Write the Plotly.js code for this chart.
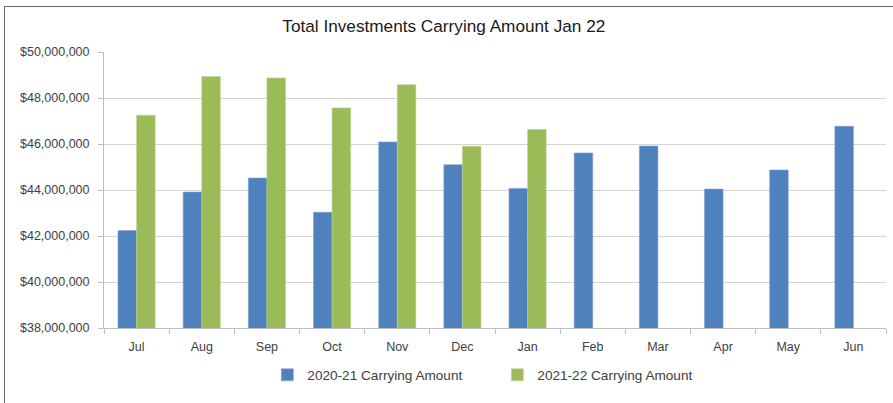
<!DOCTYPE html>
<html>
<head>
<meta charset="utf-8">
<script src="https://cdn.plot.ly/plotly-3.0.1.min.js"></script>
<style>
  html, body { margin: 0; padding: 0; background: #ffffff; }
  #wrap { position: relative; width: 893px; height: 403px; }
  #chart { width: 893px; height: 403px; }
  #frame {
    position: absolute; left: 4px; top: 6px; right: -2px; bottom: -2px;
    border-top: 1.5px solid #6b6b6b; border-left: 1.5px solid #6b6b6b;
    pointer-events: none;
  }
</style>
</head>
<body>
<div id="wrap">
  <div id="chart"></div>
  <div id="frame"></div>
</div>
<script>
// Monthly carrying amounts, fiscal year July–June
const months = ['Jul', 'Aug', 'Sep', 'Oct', 'Nov', 'Dec', 'Jan', 'Feb', 'Mar', 'Apr', 'May', 'Jun'];
const fy2021 = [42240000, 43910000, 44520000, 43030000, 46090000, 45100000, 44070000, 45610000, 45910000, 44040000, 44870000, 46770000];
const fy2122 = [47250000, 48930000, 48870000, 47570000, 48580000, 45900000, 46630000, null, null, null, null, null];
const seriesNames = ['2020-21 Carrying Amount', '2021-22 Carrying Amount'];
const yTicks = [38000000, 40000000, 42000000, 44000000, 46000000, 48000000, 50000000];

const fmt = v => '$' + v.toLocaleString('en-US');

const traces = [
  { type: 'bar', name: seriesNames[0], x: months, y: fy2021,
    marker: { color: '#4F81BD', line: { color: '#7fa3d0', width: 0.6 } } },
  { type: 'bar', name: seriesNames[1], x: months, y: fy2122,
    marker: { color: '#9BBB59', line: { color: '#bcd48c', width: 0.6 } } }
];

const layout = {
  width: 893, height: 403,
  margin: { l: 104, r: 7, t: 52, b: 75 },
  paper_bgcolor: '#ffffff', plot_bgcolor: '#ffffff',
  font: { family: 'Liberation Sans, Arial, sans-serif', color: '#404040' },
  title: {
    text: 'Total Investments Carrying Amount Jan 22',
    font: { size: 17.2, color: '#1a1a1a', family: 'Liberation Sans, Arial, sans-serif' },
    x: 0.497, xanchor: 'center', y: 0.935, yanchor: 'middle'
  },
  barmode: 'group', bargap: 0.43, bargroupgap: 0,
  showlegend: true,
  legend: {
    orientation: 'h', x: 0.503, xanchor: 'center', y: -0.114, yanchor: 'top',
    font: { size: 13.6, color: '#404040' }, entrywidth: 185,
    traceorder: 'normal', itemwidth: 30
  },
  xaxis: {
    type: 'category', tickson: 'boundaries', ticks: 'outside', ticklen: 5,
    tickcolor: '#bfbfbf', showline: true, linecolor: '#bfbfbf', linewidth: 1,
    showgrid: false, tickfont: { size: 12.5, color: '#404040' },
    ticklabelstandoff: 7, fixedrange: true
  },
  yaxis: {
    range: [38000000, 50000000], tickvals: yTicks, ticktext: yTicks.map(fmt),
    ticks: 'outside', ticklen: 5, tickcolor: '#bfbfbf',
    showline: true, linecolor: '#bfbfbf', linewidth: 1,
    gridcolor: '#d4d4d4', gridwidth: 1, zeroline: false,
    tickfont: { size: 12.5, color: '#404040' },
    ticklabelstandoff: 6, fixedrange: true
  }
};

Plotly.newPlot('chart', traces, layout, { displayModeBar: false, staticPlot: true });
</script>
</body>
</html>
